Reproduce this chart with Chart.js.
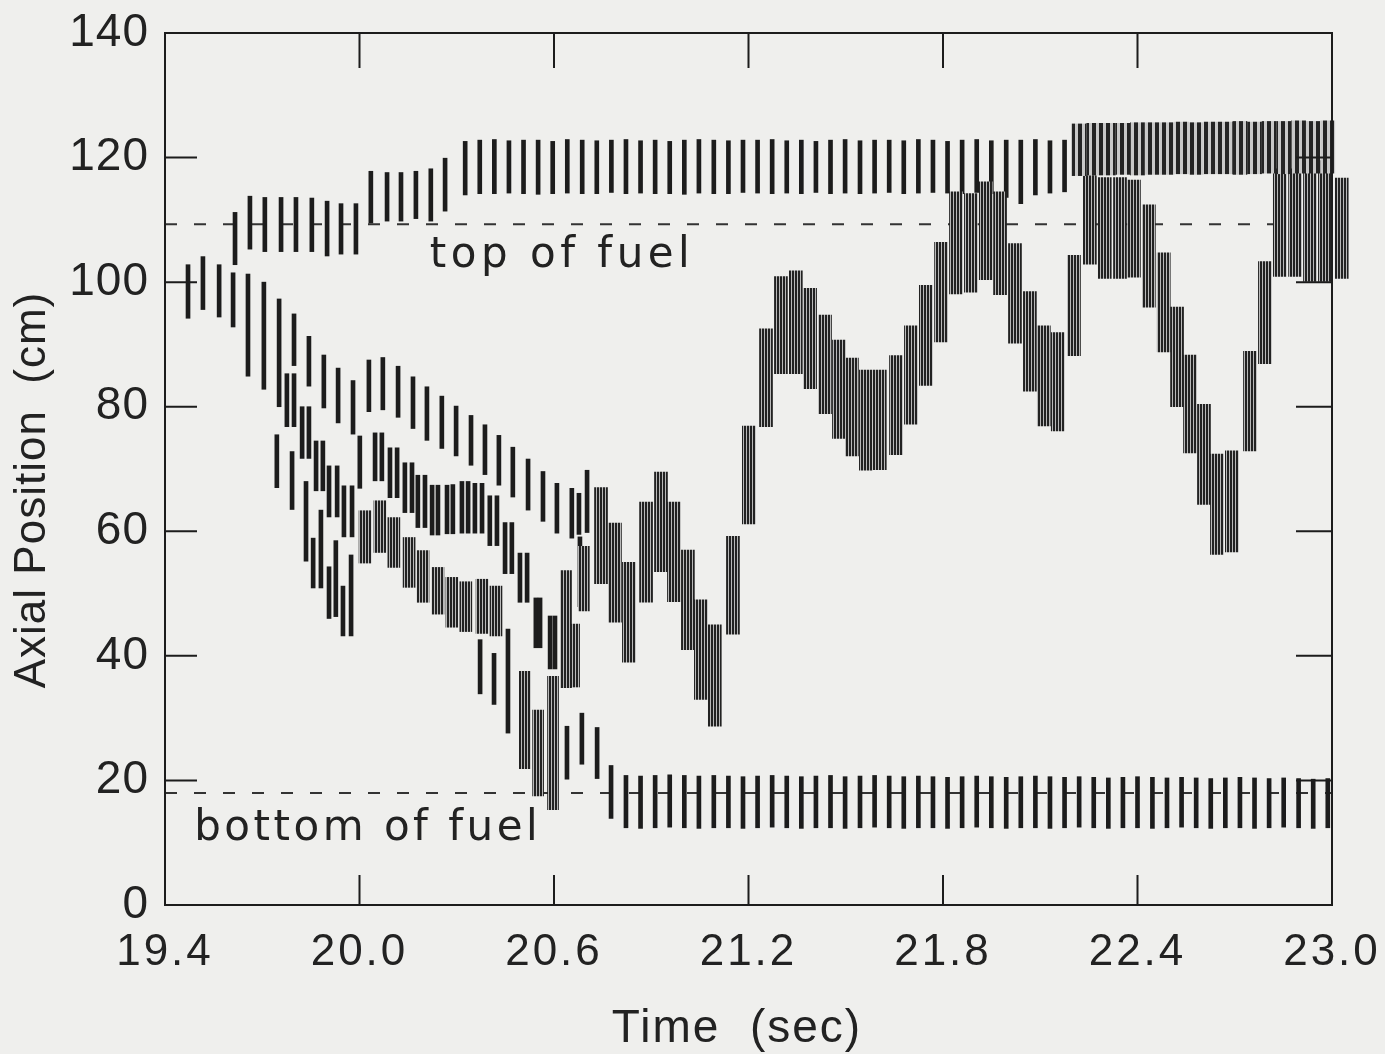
<!DOCTYPE html>
<html>
<head>
<meta charset="utf-8">
<title>Axial Position vs Time</title>
<script src="https://cdn.jsdelivr.net/npm/chart.js@4.4.1/dist/chart.umd.min.js"></script>
<style>
  html, body { margin: 0; padding: 0; background: #efefed; }
  #wrap { width: 1385px; height: 1054px; }
</style>
</head>
<body>
<div id="wrap"><canvas id="axialChart" width="1385" height="1054"></canvas></div>
<script>
// ---- data (time in s, axial position in cm) ----
const xTicks = [19.4, 20.0, 20.6, 21.2, 21.8, 22.4, 23.0];
const yTicks = [0, 20, 40, 60, 80, 100, 120, 140];
const fuelTop = 109.3;
const fuelBottom = 18.0;

// upper interface, thin marks
const topT = [19.616, 19.662, 19.708, 19.758, 19.804, 19.853, 19.900, 19.943, 19.989, 20.035, 20.085, 20.128, 20.174, 20.220, 20.264,
  20.326, 20.371, 20.416, 20.461, 20.506, 20.551, 20.596, 20.641, 20.687, 20.732, 20.777, 20.822, 20.867, 20.912, 20.957,
  21.002, 21.047, 21.093, 21.138, 21.183, 21.228, 21.273, 21.318, 21.363, 21.408, 21.453, 21.498, 21.544, 21.589, 21.634,
  21.679, 21.724, 21.769, 21.814, 21.859, 21.904, 21.949, 21.995, 22.040, 22.085, 22.130, 22.175];
const topLo = [102.8, 105.3, 104.9, 104.9, 104.9, 104.9, 104.2, 104.5, 104.5, 109.5, 109.8, 109.8, 110.2, 109.8, 111.4,
  114.0, 114.2, 114.2, 114.3, 114.2, 114.1, 114.2, 114.3, 114.2, 114.2, 114.4, 114.2, 114.3, 114.2, 114.2,
  114.1, 114.3, 114.2, 114.2, 114.4, 114.3, 114.2, 114.3, 114.2, 114.4, 114.2, 114.3, 114.2, 114.3, 114.4,
  114.2, 114.3, 114.4, 114.3, 114.2, 114.4, 114.2, 113.6, 112.6, 114.0, 114.3, 114.5];
const topHi = [111.2, 113.8, 113.6, 113.6, 113.6, 113.5, 113.0, 112.6, 112.6, 117.8, 117.6, 117.6, 117.8, 118.2, 119.9,
  122.6, 122.8, 122.9, 122.7, 122.8, 122.8, 122.6, 122.9, 122.8, 122.7, 122.8, 122.9, 122.7, 122.8, 122.6,
  122.8, 122.9, 122.8, 122.7, 122.8, 122.8, 122.9, 122.7, 122.8, 122.6, 122.8, 122.9, 122.7, 122.8, 122.8,
  122.7, 122.9, 122.8, 122.6, 122.8, 122.9, 122.7, 122.8, 122.8, 122.9, 122.7, 122.8];

// upper interface after 22.2 s, dense marks
const topDenseT = [22.220, 22.265, 22.310, 22.355, 22.400, 22.446, 22.491, 22.536, 22.581, 22.626, 22.671, 22.716, 22.761,
  22.806, 22.851, 22.897, 22.942, 22.987];
const topDenseLo = [117.1, 117.2, 117.2, 117.3, 117.2, 117.3, 117.3, 117.4, 117.3, 117.4, 117.4, 117.3, 117.4, 117.5, 117.4,
  117.5, 117.5, 117.5];
const topDenseHi = [125.4, 125.5, 125.5, 125.5, 125.6, 125.6, 125.6, 125.7, 125.6, 125.7, 125.7, 125.8, 125.7, 125.8, 125.8,
  125.9, 125.8, 125.9];

// lower interface
const botT = [20.776, 20.822, 20.867, 20.912, 20.957, 21.002, 21.047, 21.093, 21.138, 21.183,
  21.228, 21.273, 21.318, 21.363, 21.408, 21.453, 21.498, 21.544, 21.589, 21.634,
  21.679, 21.724, 21.769, 21.814, 21.859, 21.904, 21.949, 21.995, 22.040, 22.085,
  22.130, 22.175, 22.220, 22.265, 22.310, 22.355, 22.400, 22.446, 22.491, 22.536,
  22.581, 22.626, 22.671, 22.716, 22.761, 22.806, 22.851, 22.897, 22.942, 22.987];
const botLo = [13.9, 12.4, 12.3, 12.4, 12.5, 12.4, 12.3, 12.4, 12.4, 12.3,
  12.4, 12.5, 12.4, 12.3, 12.4, 12.4, 12.3, 12.4, 12.5, 12.4,
  12.3, 12.4, 12.4, 12.3, 12.4, 12.5, 12.4, 12.3, 12.4, 12.4,
  12.3, 12.4, 12.5, 12.4, 12.3, 12.4, 12.4, 12.3, 12.4, 12.5,
  12.4, 12.3, 12.4, 12.4, 12.3, 12.4, 12.5, 12.4, 12.3, 12.4];
const botHi = [22.4, 20.8, 20.7, 20.8, 20.9, 20.8, 20.7, 20.8, 20.7, 20.6,
  20.7, 20.8, 20.7, 20.6, 20.7, 20.8, 20.6, 20.7, 20.8, 20.7,
  20.6, 20.7, 20.6, 20.5, 20.6, 20.7, 20.6, 20.5, 20.6, 20.7,
  20.6, 20.5, 20.6, 20.5, 20.4, 20.5, 20.6, 20.5, 20.4, 20.5,
  20.4, 20.3, 20.4, 20.5, 20.4, 20.3, 20.4, 20.3, 20.2, 20.3];

// main moving interface (dense blocks)
const ifT = [20.745, 20.788, 20.831, 20.884, 20.930, 20.970, 21.013, 21.053, 21.096, 21.152,
  21.201, 21.254, 21.300, 21.346, 21.390, 21.436, 21.479, 21.519, 21.562, 21.605,
  21.655, 21.701, 21.747, 21.794, 21.840, 21.886, 21.932, 21.976, 22.022, 22.068,
  22.111, 22.154, 22.204, 22.253, 22.299, 22.346, 22.389, 22.435, 22.481, 22.522,
  22.562, 22.605, 22.645, 22.691, 22.747, 22.793, 22.839, 22.886, 22.932, 22.978, 23.030];
const ifLo = [51.6, 45.4, 39.0, 48.6, 53.5, 48.7, 41.0, 33.0, 28.7, 43.5,
  61.2, 76.8, 85.3, 85.3, 82.9, 78.9, 74.9, 72.1, 69.8, 69.9,
  72.3, 77.2, 83.4, 90.4, 98.1, 98.4, 100.4, 98.0, 90.2, 82.5,
  76.9, 76.1, 88.2, 102.9, 100.6, 100.6, 100.8, 96.0, 88.8, 80.0,
  72.6, 64.3, 56.3, 56.7, 72.9, 86.9, 100.9, 100.9, 100.1, 100.1, 100.6];
const ifHi = [67.0, 61.3, 55.0, 64.7, 69.5, 64.7, 57.0, 49.0, 45.0, 59.2,
  76.9, 92.5, 100.9, 101.8, 99.0, 94.7, 90.7, 87.8, 85.9, 85.9,
  88.2, 93.0, 99.5, 106.4, 114.5, 114.2, 116.1, 114.5, 106.2, 98.5,
  93.0, 91.9, 104.3, 117.1, 116.8, 116.8, 116.4, 112.4, 104.7, 96.0,
  88.3, 80.4, 72.4, 72.9, 88.9, 103.3, 118.2, 118.2, 119.5, 119.5, 116.7];

// early descending fronts (thin marks)
const aT = [19.471, 19.517, 19.567, 19.610, 19.656, 19.705, 19.752, 19.798, 19.844, 19.890, 19.934, 19.980, 20.029, 20.072,
  20.119, 20.165, 20.208, 20.254, 20.298, 20.344, 20.387, 20.430, 20.473, 20.520, 20.566, 20.609, 20.655, 20.677, 20.702];
const aLo = [94.2, 95.6, 94.4, 92.8, 84.9, 82.8, 80.0, 86.6, 83.3, 79.8, 77.4, 75.6, 79.2, 79.5,
  78.3, 76.5, 74.6, 73.3, 72.1, 70.6, 69.1, 67.4, 65.5, 63.4, 61.6, 59.7, 58.9, 59.5, 59.8];
const aHi = [102.8, 104.1, 102.8, 101.5, 101.3, 100.0, 97.3, 94.9, 91.3, 88.3, 86.2, 84.2, 87.5, 87.9,
  86.5, 84.8, 83.2, 81.7, 80.1, 78.6, 77.1, 75.4, 73.5, 71.6, 69.6, 67.7, 66.9, 66.1, 69.8];

const bT = [19.776, 19.798, 19.823, 19.844, 19.866, 19.887, 19.906, 19.931, 19.952, 19.977];
const bLo = [76.8, 76.8, 71.7, 71.7, 66.5, 66.5, 62.3, 62.3, 59.1, 59.1];
const bHi = [85.3, 85.3, 80.0, 80.0, 74.5, 74.5, 70.5, 70.5, 67.3, 67.3];

const cT = [19.745, 19.792, 19.835, 19.857, 19.881, 19.906, 19.927, 19.949, 19.974];
const cLo = [67.0, 63.5, 55.2, 50.9, 50.9, 46.0, 46.3, 43.2, 43.2];
const cHi = [75.5, 72.8, 68.0, 58.9, 63.4, 54.3, 58.5, 51.2, 56.2];

const dT = [20.001, 20.048, 20.069, 20.094, 20.116, 20.140, 20.162, 20.180, 20.202, 20.224, 20.242, 20.270,
  20.288, 20.316, 20.335, 20.356, 20.378, 20.402, 20.424, 20.449, 20.470, 20.495, 20.517];
const dLo = [66.9, 68.1, 68.1, 65.4, 65.4, 63.0, 63.0, 60.6, 60.6, 59.4, 59.4, 59.6,
  59.6, 59.7, 59.7, 59.7, 59.7, 57.7, 57.7, 53.2, 53.2, 48.6, 48.6];
const dHi = [75.3, 75.8, 75.8, 73.4, 73.4, 71.0, 71.0, 69.0, 69.0, 67.4, 67.4, 67.4,
  67.5, 68.0, 68.0, 67.7, 67.7, 65.7, 65.7, 61.4, 61.4, 56.5, 56.5];

const eT = [20.372, 20.415, 20.458, 20.544, 20.557, 20.588, 20.603, 20.640, 20.680, 20.686, 20.733];
const eLo = [33.9, 32.2, 27.6, 41.3, 41.3, 37.9, 37.9, 20.2, 47.9, 22.6, 20.3];
const eHi = [42.6, 40.4, 44.3, 49.3, 49.3, 46.4, 46.4, 28.7, 59.1, 30.8, 28.5];

// dense band 20.0-20.45 s
const gT = [20.017, 20.063, 20.106, 20.153, 20.196, 20.242, 20.285, 20.328, 20.378, 20.421];
const gLo = [54.9, 56.6, 54.2, 51.0, 48.6, 46.7, 44.6, 43.9, 43.6, 43.2];
const gHi = [63.3, 64.9, 62.2, 59.0, 56.9, 54.2, 52.6, 51.9, 52.3, 51.2];

// dense cluster 20.5-20.7 s
const kT = [20.510, 20.551, 20.597, 20.637, 20.662, 20.692];
const kLo = [21.9, 17.5, 15.3, 34.9, 35.0, 47.2];
const kHi = [37.5, 31.3, 36.7, 53.7, 45.1, 57.6];

// ---- helpers ----
function bars(t, lo, hi) {
  return t.map((x, i) => ({ x: x, y: [lo[i], hi[i]] }));
}

function stripes(dark, light, period, darkWidth) {
  const c = document.createElement('canvas');
  c.width = period; c.height = 2;
  const g = c.getContext('2d');
  g.fillStyle = light; g.fillRect(0, 0, period, 2);
  g.fillStyle = dark; g.fillRect(0, 0, darkWidth, 2);
  return g.createPattern(c, 'repeat');
}

const INK = '#1c1c1c';
const TICK_FONT = '"Liberation Sans", Arial, sans-serif';
const blockFill = stripes('#222222', '#b9b9b9', 3, 2);
const bandFill = stripes('#242424', '#c8c8c8', 7, 4);

function thin(data) {
  return { data: data, backgroundColor: INK, barThickness: 4, borderWidth: 0, grouped: false, order: 2 };
}
function block(data, w, fill) {
  return { data: data, backgroundColor: fill, barThickness: w, borderWidth: 0, grouped: false, order: 1, clip: false };
}
function dashed(y0, x0, x1) {
  return {
    type: 'line', data: [{ x: x0, y: y0 }, { x: x1, y: y0 }],
    borderColor: '#333', borderWidth: 2, borderDash: [12, 17], pointRadius: 0, order: 10
  };
}

// frame, inner ticks, titles and labels
const decorations = {
  id: 'decorations',
  beforeDraw(chart) {
    chart.ctx.letterSpacing = '1px';
    const xs = chart.scales.x;
    if (!xs._spaced) {
      // the time labels are set wider apart than the position labels
      const drawLabels = xs.drawLabels.bind(xs);
      xs.drawLabels = function (area) {
        const prev = this.ctx.letterSpacing;
        this.ctx.letterSpacing = '3px';
        drawLabels(area);
        this.ctx.letterSpacing = prev;
      };
      xs._spaced = true;
    }
  },
  afterDraw(chart) {
    const ctx = chart.ctx;
    const a = chart.chartArea;
    const xs = chart.scales.x, ys = chart.scales.y;
    ctx.save();
    ctx.strokeStyle = INK;
    ctx.lineWidth = 2;
    ctx.strokeRect(a.left, a.top, a.right - a.left, a.bottom - a.top);
    ctx.beginPath();
    xTicks.slice(1, -1).forEach(v => {
      const px = xs.getPixelForValue(v);
      ctx.moveTo(px, a.bottom); ctx.lineTo(px, a.bottom - 30);
      ctx.moveTo(px, a.top); ctx.lineTo(px, a.top + 35);
    });
    yTicks.slice(1, -1).forEach(v => {
      const py = ys.getPixelForValue(v);
      ctx.moveTo(a.left, py); ctx.lineTo(a.left + 32, py);
      ctx.moveTo(a.right, py); ctx.lineTo(a.right - 36, py);
    });
    ctx.stroke();

    ctx.fillStyle = '#222';
    ctx.textBaseline = 'alphabetic';
    ctx.textAlign = 'left';
    ctx.font = '42px "DejaVu Sans"';
    ctx.letterSpacing = '4.5px';
    ctx.fillText('top of fuel', xs.getPixelForValue(20.217), ys.getPixelForValue(102.4));
    ctx.letterSpacing = '3.5px';
    ctx.fillText('bottom of fuel', xs.getPixelForValue(19.49), ys.getPixelForValue(10.5));

    ctx.textAlign = 'center';
    ctx.textBaseline = 'middle';
    ctx.font = '46px "Liberation Sans"';
    ctx.letterSpacing = '2px';
    ctx.fillText('Time  (sec)', 737, 1029);
    ctx.translate(33, 490);
    ctx.rotate(-Math.PI / 2);
    ctx.font = '44px "Liberation Sans"';
    ctx.letterSpacing = '1px';
    ctx.fillText('Axial Position  (cm)', 0, 0);
    ctx.restore();
  }
};

new Chart(document.getElementById('axialChart'), {
  type: 'bar',
  data: {
    datasets: [
      dashed(fuelTop, 19.4, 22.86),
      dashed(fuelBottom, 19.4, 23.0),
      thin(bars(topT, topLo, topHi)),
      block(bars(topDenseT, topDenseLo, topDenseHi), 14, bandFill),
      thin(bars(botT, botLo, botHi)),
      thin(bars(aT, aLo, aHi)),
      thin(bars(bT, bLo, bHi)),
      thin(bars(cT, cLo, cHi)),
      thin(bars(dT, dLo, dHi)),
      thin(bars(eT, eLo, eHi)),
      block(bars(gT, gLo, gHi), 12, blockFill),
      block(bars(kT, kLo, kHi), 11, blockFill),
      block(bars(ifT, ifLo, ifHi), 13, blockFill)
    ]
  },
  options: {
    responsive: false,
    animation: false,
    devicePixelRatio: 1,
    layout: { padding: { top: 33, right: 53, bottom: 0, left: 0 } },
    plugins: { legend: { display: false }, tooltip: { enabled: false } },
    scales: {
      x: {
        type: 'linear', min: 19.4, max: 23.0, offset: false,
        grid: { display: false, drawTicks: false },
        border: { display: false },
        afterBuildTicks: s => { s.ticks = xTicks.map(v => ({ value: v })); },
        afterFit: s => { s.height = 149; s.paddingLeft = 0; s.paddingRight = 0; },
        ticks: {
          autoSkip: false, maxRotation: 0, padding: 21, color: '#222',
          font: { family: TICK_FONT, size: 44 },
          callback: v => Number(v).toFixed(1)
        }
      },
      y: {
        min: 0, max: 140,
        grid: { display: false, drawTicks: false },
        border: { display: false },
        afterBuildTicks: s => { s.ticks = yTicks.map(v => ({ value: v })); },
        afterFit: s => { s.width = 165; s.paddingTop = 0; s.paddingBottom = 0; },
        ticks: { padding: 16, color: '#222', font: { family: TICK_FONT, size: 46 } }
      }
    }
  },
  plugins: [decorations]
});
</script>
</body>
</html>
